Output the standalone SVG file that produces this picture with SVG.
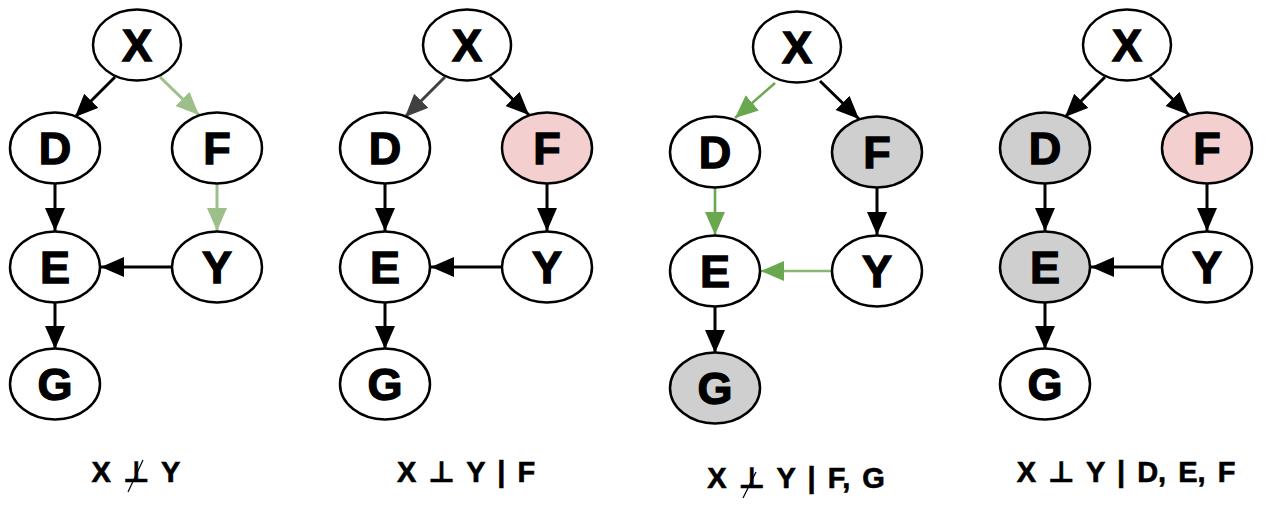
<svg xmlns="http://www.w3.org/2000/svg" width="1266" height="516" viewBox="0 0 1266 516">
<defs>
<style>
.n ellipse{stroke:#000;stroke-width:2.5;fill:#fff}
.n.gray ellipse{fill:#cfcfcf}
.n.pink ellipse{fill:#f3cfcf}
.n text{font-family:"Liberation Sans","DejaVu Sans",sans-serif;font-weight:bold;font-size:45px;text-anchor:middle;fill:#000;stroke:#000;stroke-width:1.3}
.e{stroke-width:3;fill:none}
.k{stroke:#000;marker-end:url(#ak)}
.lg{stroke:#9dc08b;marker-end:url(#alg)}
.g{stroke:#6aa84f;stroke-width:2.6;marker-end:url(#ag)}
.g2{stroke:#86b872;stroke-width:2.6;marker-end:url(#ag)}
.dg{stroke:#404040;marker-end:url(#adg)}
.cap{font-family:"Liberation Sans","DejaVu Sans",sans-serif;font-weight:bold;font-size:29px;text-anchor:middle;fill:#000;stroke:#000;stroke-width:0.6;word-spacing:4px}
.sl{stroke:#000;stroke-width:1.2}
</style>
<marker id="ak" markerUnits="userSpaceOnUse" markerWidth="26" markerHeight="22" refX="23" refY="10" orient="auto"><path d="M0,0 L23,10 L0,20 z" fill="#000"/></marker>
<marker id="alg" markerUnits="userSpaceOnUse" markerWidth="26" markerHeight="22" refX="23" refY="10" orient="auto"><path d="M0,0 L23,10 L0,20 z" fill="#9dc08b"/></marker>
<marker id="ag" markerUnits="userSpaceOnUse" markerWidth="26" markerHeight="22" refX="23" refY="10" orient="auto"><path d="M0,0 L23,10 L0,20 z" fill="#6aa84f"/></marker>
<marker id="adg" markerUnits="userSpaceOnUse" markerWidth="26" markerHeight="22" refX="23" refY="10" orient="auto"><path d="M0,0 L23,10 L0,20 z" fill="#404040"/></marker>
</defs>
<rect width="1266" height="516" fill="#fff"/>

<!-- Panel 1 -->
<g id="p1">
<g id="p1-edges">
<line class="e k" x1="115" y1="77" x2="75" y2="117"/>
<line class="e lg" x1="160" y1="77" x2="199" y2="115"/>
<line class="e k" x1="55" y1="184" x2="55" y2="231"/>
<line class="e lg" x1="217" y1="184" x2="217" y2="231"/>
<line class="e k" x1="172" y1="267" x2="101" y2="267"/>
<line class="e k" x1="55" y1="303" x2="55" y2="349"/>
</g>
<g id="p1-X" class="n"><ellipse cx="137" cy="45" rx="44" ry="35.5"/><text x="137" y="61">X</text></g>
<g id="p1-D" class="n"><ellipse cx="55" cy="148" rx="45" ry="35.5"/><text x="55" y="164">D</text></g>
<g id="p1-F" class="n"><ellipse cx="217" cy="148" rx="45" ry="35.5"/><text x="217" y="164">F</text></g>
<g id="p1-E" class="n"><ellipse cx="55" cy="267" rx="45" ry="35.5"/><text x="55" y="283">E</text></g>
<g id="p1-Y" class="n"><ellipse cx="217" cy="267" rx="45" ry="35.5"/><text x="217" y="283">Y</text></g>
<g id="p1-G" class="n"><ellipse cx="55" cy="384" rx="45" ry="35.5"/><text x="55" y="400">G</text></g>
<g id="p1-cap"><text class="cap" x="136" y="482">X ⊥ Y</text><line class="sl" x1="143" y1="460" x2="128" y2="492"/></g>
</g>

<!-- Panel 2 -->
<g id="p2" transform="translate(330,0)">
<g id="p2-edges">
<line class="e dg" x1="115" y1="77" x2="75" y2="117"/>
<line class="e k" x1="160" y1="77" x2="199" y2="115"/>
<line class="e k" x1="55" y1="184" x2="55" y2="231"/>
<line class="e k" x1="217" y1="184" x2="217" y2="231"/>
<line class="e k" x1="172" y1="267" x2="101" y2="267"/>
<line class="e k" x1="55" y1="303" x2="55" y2="349"/>
</g>
<g id="p2-X" class="n"><ellipse cx="137" cy="45" rx="44" ry="35.5"/><text x="137" y="61">X</text></g>
<g id="p2-D" class="n"><ellipse cx="55" cy="148" rx="45" ry="35.5"/><text x="55" y="164">D</text></g>
<g id="p2-F" class="n pink"><ellipse cx="217" cy="148" rx="45" ry="35.5"/><text x="217" y="164">F</text></g>
<g id="p2-E" class="n"><ellipse cx="55" cy="267" rx="45" ry="35.5"/><text x="55" y="283">E</text></g>
<g id="p2-Y" class="n"><ellipse cx="217" cy="267" rx="45" ry="35.5"/><text x="217" y="283">Y</text></g>
<g id="p2-G" class="n"><ellipse cx="55" cy="384" rx="45" ry="35.5"/><text x="55" y="400">G</text></g>
<g id="p2-cap"><text class="cap" x="136" y="482">X ⊥ Y | F</text></g>
</g>

<!-- Panel 3 -->
<g id="p3" transform="translate(660,4)">
<g id="p3-edges">
<line class="e g" x1="115" y1="79" x2="75" y2="114"/>
<line class="e k" x1="160" y1="77" x2="199" y2="115"/>
<line class="e g" x1="55" y1="184" x2="55" y2="231"/>
<line class="e k" x1="217" y1="184" x2="217" y2="231"/>
<line class="e g2" x1="172" y1="267" x2="101" y2="267"/>
<line class="e k" x1="55" y1="303" x2="55" y2="349"/>
</g>
<g id="p3-X" class="n"><ellipse cx="137" cy="43" rx="44" ry="35.5"/><text x="137" y="59">X</text></g>
<g id="p3-D" class="n"><ellipse cx="55" cy="148" rx="45" ry="35.5"/><text x="55" y="164">D</text></g>
<g id="p3-F" class="n gray"><ellipse cx="217" cy="148" rx="45" ry="35.5"/><text x="217" y="164">F</text></g>
<g id="p3-E" class="n"><ellipse cx="55" cy="267" rx="45" ry="35.5"/><text x="55" y="283">E</text></g>
<g id="p3-Y" class="n"><ellipse cx="217" cy="267" rx="45" ry="35.5"/><text x="217" y="283">Y</text></g>
<g id="p3-G" class="n gray"><ellipse cx="55" cy="384" rx="45" ry="35.5"/><text x="55" y="400">G</text></g>
<g id="p3-cap"><text class="cap" x="136" y="484">X ⊥ Y | F, G</text><line class="sl" x1="96" y1="468" x2="83" y2="494"/></g>
</g>

<!-- Panel 4 -->
<g id="p4" transform="translate(990,0)">
<g id="p4-edges">
<line class="e k" x1="115" y1="77" x2="75" y2="117"/>
<line class="e k" x1="160" y1="77" x2="199" y2="115"/>
<line class="e k" x1="55" y1="184" x2="55" y2="231"/>
<line class="e k" x1="217" y1="184" x2="217" y2="231"/>
<line class="e k" x1="172" y1="267" x2="101" y2="267"/>
<line class="e k" x1="55" y1="303" x2="55" y2="349"/>
</g>
<g id="p4-X" class="n"><ellipse cx="137" cy="45" rx="44" ry="35.5"/><text x="137" y="61">X</text></g>
<g id="p4-D" class="n gray"><ellipse cx="55" cy="148" rx="45" ry="35.5"/><text x="55" y="164">D</text></g>
<g id="p4-F" class="n pink"><ellipse cx="217" cy="148" rx="45" ry="35.5"/><text x="217" y="164">F</text></g>
<g id="p4-E" class="n gray"><ellipse cx="55" cy="267" rx="45" ry="35.5"/><text x="55" y="283">E</text></g>
<g id="p4-Y" class="n"><ellipse cx="217" cy="267" rx="45" ry="35.5"/><text x="217" y="283">Y</text></g>
<g id="p4-G" class="n"><ellipse cx="55" cy="384" rx="45" ry="35.5"/><text x="55" y="400">G</text></g>
<g id="p4-cap"><text class="cap" x="136" y="482">X ⊥ Y | D, E, F</text></g>
</g>
</svg>
